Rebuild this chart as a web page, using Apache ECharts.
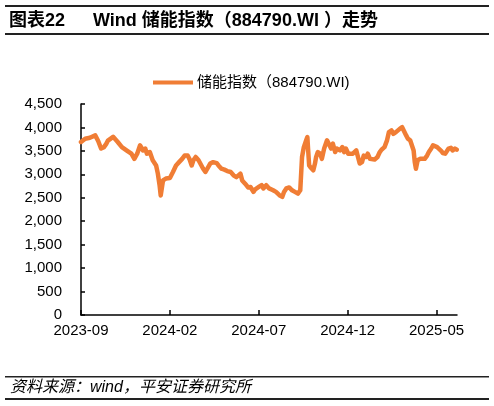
<!DOCTYPE html>
<html>
<head>
    <meta charset="utf-8">
    <title>Wind 储能指数走势</title>
    <style>
        html, body { margin: 0; padding: 0; background: #fff; }
        #chart { width: 494px; height: 406px; }
    </style>
</head>
<body>
<div id="chart"></div>
<script src="https://cdn.jsdelivr.net/npm/echarts@6/dist/echarts.min.js"></script>
<script type="text/javascript">
    // 日期
    var dates = [
        '2023-09-01','2023-09-08','2023-09-16','2023-09-25','2023-09-30','2023-10-05','2023-10-10','2023-10-14',
        '2023-10-17','2023-10-26','2023-10-29','2023-11-03','2023-11-10','2023-11-19','2023-11-26','2023-12-01',
        '2023-12-06','2023-12-11','2023-12-16','2023-12-20','2023-12-23','2023-12-28','2024-01-02','2024-01-08',
        '2024-01-11','2024-01-14','2024-01-16','2024-01-20','2024-01-25','2024-02-01','2024-02-06','2024-02-11',
        '2024-02-16','2024-02-21','2024-02-25','2024-03-01','2024-03-04','2024-03-08','2024-03-11','2024-03-15',
        '2024-03-20','2024-03-23','2024-03-28','2024-04-01','2024-04-04','2024-04-09','2024-04-14','2024-04-20',
        '2024-04-23','2024-04-28','2024-05-03','2024-05-08','2024-05-14','2024-05-19','2024-05-24','2024-05-27',
        '2024-05-31','2024-06-03','2024-06-08','2024-06-13','2024-06-17','2024-06-22','2024-06-25','2024-07-01',
        '2024-07-06','2024-07-09','2024-07-14','2024-07-19','2024-07-26','2024-07-31','2024-08-06','2024-08-11',
        '2024-08-14','2024-08-18','2024-08-23','2024-08-28','2024-09-02','2024-09-07','2024-09-11','2024-09-14',
        '2024-09-17','2024-09-21','2024-09-23','2024-09-24','2024-09-26','2024-09-29','2024-10-03','2024-10-06',
        '2024-10-08','2024-10-11','2024-10-15','2024-10-18','2024-10-22','2024-10-27','2024-10-30','2024-11-03',
        '2024-11-06','2024-11-10','2024-11-13','2024-11-18','2024-11-22','2024-11-25','2024-11-28','2024-12-02',
        '2024-12-05','2024-12-10','2024-12-16','2024-12-19','2024-12-22','2024-12-26','2024-12-29','2025-01-02',
        '2025-01-05','2025-01-09','2025-01-12','2025-01-17','2025-01-22','2025-01-26','2025-01-29','2025-02-03',
        '2025-02-07','2025-02-10','2025-02-14','2025-02-17','2025-02-21','2025-02-24','2025-02-27','2025-03-03',
        '2025-03-06','2025-03-10','2025-03-13','2025-03-17','2025-03-20','2025-03-23','2025-03-25','2025-03-27',
        '2025-03-30','2025-04-03','2025-04-06','2025-04-11','2025-04-15','2025-04-18','2025-04-22','2025-04-25',
        '2025-04-28','2025-05-02','2025-05-05','2025-05-09','2025-05-12','2025-05-16','2025-05-19','2025-05-22',
        '2025-05-26','2025-05-29','2025-06-02','2025-06-05'
    ];
    // 储能指数（884790.WI）收盘值
    var indexValues = [
        3690,3760,3780,3830,3710,3550,3580,3650,
        3720,3800,3800,3690,3580,3500,3440,3330,
        3440,3620,3510,3550,3440,3475,3300,3190,
        3015,2770,2550,2870,2910,2920,3050,3190,
        3260,3330,3400,3400,3330,3190,3300,3370,
        3300,3300,3120,3050,3085,3230,3260,3240,
        3190,3120,3100,3070,3050,2980,2940,2980,
        3015,2870,2800,2720,2730,2625,2680,2730,
        2770,2700,2770,2700,2660,2625,2555,2520,
        2625,2700,2720,2660,2625,2590,2660,3370,
        3580,3725,3795,3580,3190,3140,3085,3230,
        3370,3475,3440,3330,3550,3725,3760,3550,
        3655,3475,3550,3510,3580,3475,3550,3440,
        3400,3440,3510,3370,3230,3260,3400,3370,
        3440,3330,3300,3315,3370,3475,3525,3580,
        3725,3900,3935,3865,3900,3935,3970,4005,
        3970,3830,3760,3725,3690,3510,3260,3120,
        3300,3330,3370,3330,3400,3475,3550,3620,
        3630,3580,3550,3500,3455,3440,3475,3550,
        3565,3510,3550,3525
    ];
    // 横轴刻度（自 2023-09 起的月数）
    var xTickMonths = [0, 5, 10, 15, 20];
    var yTicks = [0, 500, 1000, 1500, 2000, 2500, 3000, 3500, 4000, 4500];

    var startYear = 2023, startMonth = 9;

    function monthIndex(s) {
        var p = s.split('-');
        var y = +p[0], m = +p[1], d = +p[2];
        var dim = new Date(y, m, 0).getDate();
        return (y - startYear) * 12 + (m - startMonth) + (d - 1) / dim;
    }
    function monthLabel(v) {
        var total = startMonth - 1 + Math.round(v);
        var y = startYear + Math.floor(total / 12);
        var m = total % 12 + 1;
        return y + '-' + (m < 10 ? '0' + m : m);
    }

    var seriesData = dates.map(function (d, i) {
        return [monthIndex(d), indexValues[i]];
    });

    var numFont = 'Liberation Sans, Arial, sans-serif';
    var cjkFont = 'Liberation Sans, Noto Sans CJK SC, sans-serif';
    var orange = '#F07D35';

    var myChart = echarts.init(document.getElementById('chart'));
    myChart.setOption({
        animation: false,
        backgroundColor: '#fff',
        grid: {
            left: 81, right: 37, top: 104, bottom: 91,
            outerBoundsMode: 'none'
        },
        legend: {
            left: 153,
            top: 75,
            padding: 0,
            icon: 'rect',
            itemWidth: 40,
            itemHeight: 4,
            itemGap: 10,
            textStyle: { fontFamily: cjkFont, fontSize: 15, color: '#000', padding: [0, 0, 0, -1] },
            data: ['储能指数（884790.WI)']
        },
        xAxis: {
            type: 'value',
            min: 0,
            max: 21.15,
            interval: 5,
            splitLine: { show: false },
            axisLine: { lineStyle: { color: '#000', width: 1.5 } },
            axisTick: { inside: true, length: 5, customValues: xTickMonths, lineStyle: { color: '#000', width: 1.5 } },
            axisLabel: {
                customValues: xTickMonths,
                formatter: monthLabel,
                color: '#000', fontFamily: numFont, fontSize: 15, margin: 8
            }
        },
        yAxis: {
            type: 'value',
            min: yTicks[0],
            max: yTicks[yTicks.length - 1],
            interval: 500,
            splitLine: { show: false },
            axisLine: { show: true, lineStyle: { color: '#000', width: 1.5 } },
            axisTick: { show: true, inside: true, length: 4, lineStyle: { color: '#000', width: 1.5 } },
            axisLabel: {
                formatter: function (v) { return v.toLocaleString('en-US'); },
                color: '#000', fontFamily: numFont, fontSize: 15, margin: 19
            }
        },
        series: [{
            name: '储能指数（884790.WI)',
            type: 'line',
            symbol: 'none',
            data: seriesData,
            itemStyle: { color: orange },
            lineStyle: { color: orange, width: 4.5, join: 'round', cap: 'round' }
        }],
        graphic: [
            { type: 'rect', shape: { x: 5, y: 5, width: 484, height: 2 }, style: { fill: '#222' } },
            { type: 'text', left: 9, top: 12,
              style: { text: '图表22', fill: '#000', font: 'bold 18px Liberation Sans, Noto Sans CJK SC, sans-serif' } },
            { type: 'text', left: 93, top: 12,
              style: { text: 'Wind 储能指数（884790.WI ）走势', fill: '#000', font: 'bold 18px Liberation Sans, Noto Sans CJK SC, sans-serif' } },
            { type: 'rect', shape: { x: 5, y: 33, width: 484, height: 2 }, style: { fill: '#222' } },
            { type: 'rect', shape: { x: 5, y: 376, width: 484, height: 1.5 }, style: { fill: '#222' } },
            { type: 'text', left: 10, top: 380,
              style: { text: '资料来源：wind，平安证券研究所', fill: '#000', font: 'italic 16px Liberation Sans, Noto Sans CJK SC, sans-serif' } },
            { type: 'rect', shape: { x: 5, y: 398, width: 484, height: 2 }, style: { fill: '#222' } }
        ]
    });
</script>
</body>
</html>
